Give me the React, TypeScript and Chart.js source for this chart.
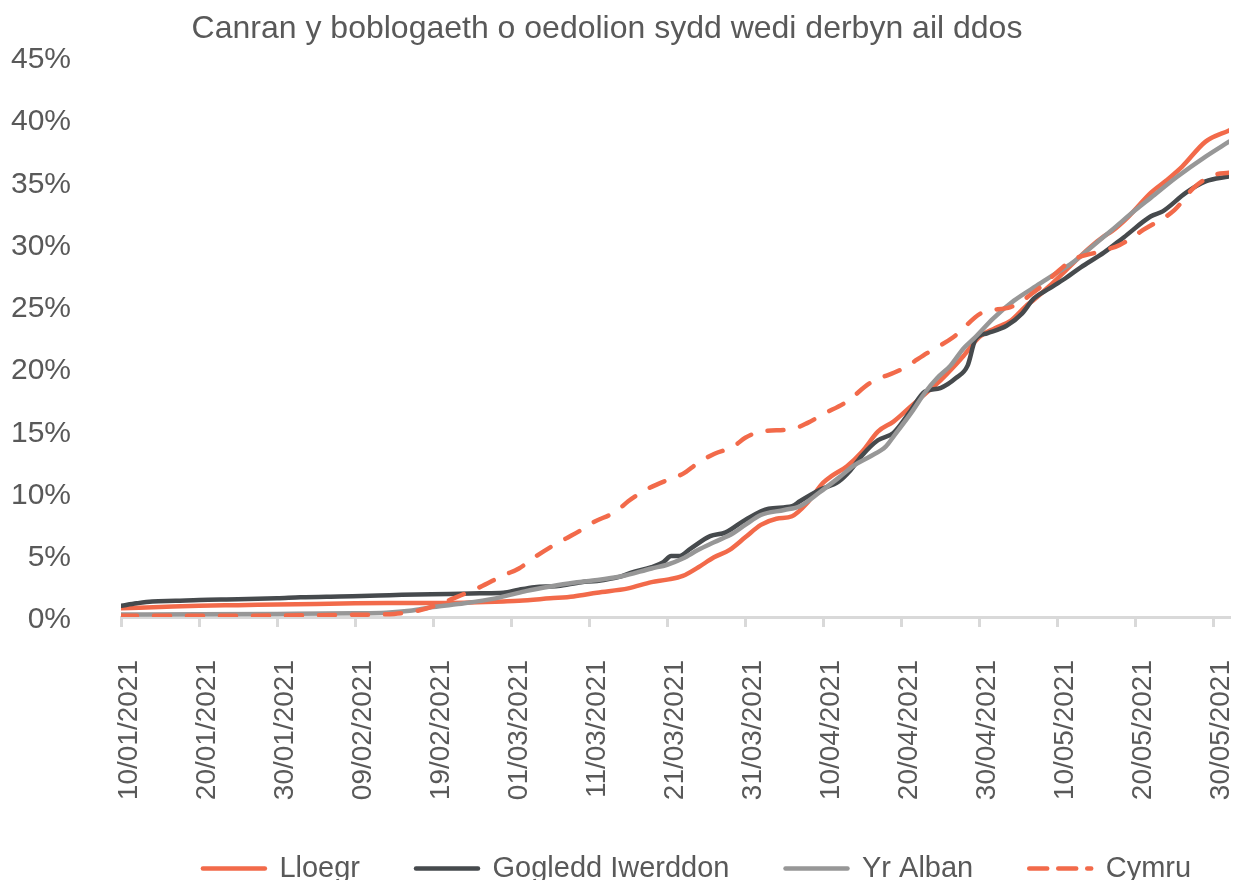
import React, { useEffect, useRef } from 'react';
import { Chart, registerables } from 'chart.js';

Chart.register(...registerables);

// Tick labels every 10 days, starting 10/01/2021 (day index 0)
const tickLabels = [
  '10/01/2021', '20/01/2021', '30/01/2021', '09/02/2021', '19/02/2021',
  '01/03/2021', '11/03/2021', '21/03/2021', '31/03/2021', '10/04/2021',
  '20/04/2021', '30/04/2021', '10/05/2021', '20/05/2021', '30/05/2021',
];

const seriesNames = ['Lloegr', 'Gogledd Iwerddon', 'Yr Alban', 'Cymru'];

// Day index (days since 10/01/2021) and % values
const lloegrDays = [0, 5, 10, 15, 20, 25, 30, 36, 44, 49, 51, 55, 58, 61, 65, 68, 70, 72, 74, 76, 78, 80, 82, 84, 86, 88, 90, 91, 93, 95, 97, 99, 101, 103, 105, 107, 108, 110, 112, 114, 116, 117, 119, 121, 124, 126, 127, 129, 132, 134, 136, 139, 142];
const lloegrValues = [0.7, 0.8, 0.9, 0.95, 1.0, 1.05, 1.1, 1.12, 1.15, 1.25, 1.3, 1.5, 1.65, 1.95, 2.3, 2.8, 3.0, 3.3, 4.0, 4.8, 5.4, 6.4, 7.4, 7.9, 8.1, 9.2, 10.8, 11.3, 12.1, 13.3, 14.9, 15.7, 16.8, 17.9, 19.0, 20.3, 21.0, 22.5, 23.2, 23.8, 25.0, 25.5, 26.6, 27.8, 29.6, 30.6, 31.0, 32.1, 34.1, 35.1, 36.2, 38.2, 39.1];

const niDays = [0, 2, 4, 7, 10, 15, 20, 23, 28, 33, 36, 42, 46, 49, 51, 53, 56, 59, 61, 64, 65.6, 68, 69.5, 70.5, 71.5, 73, 75.5, 77.5, 80, 83, 86, 87, 89.5, 92, 93.5, 95, 97, 99, 101, 103, 105, 107, 108.5, 109.5, 111, 113.5, 115.5, 117, 119, 121, 123, 126, 128.5, 132, 133.5, 136.5, 139, 142];
const niValues = [0.9, 1.1, 1.25, 1.3, 1.37, 1.42, 1.5, 1.58, 1.65, 1.72, 1.78, 1.85, 1.9, 1.95, 2.2, 2.4, 2.5, 2.8, 2.9, 3.25, 3.6, 4.0, 4.4, 4.9, 4.9, 5.5, 6.5, 6.8, 7.8, 8.7, 8.9, 9.3, 10.2, 10.9, 11.8, 13.0, 14.2, 14.8, 16.4, 18.1, 18.4, 19.2, 20.2, 22.3, 22.8, 23.4, 24.4, 25.6, 26.4, 27.2, 28.1, 29.3, 30.5, 32.2, 32.6, 34.1, 35.0, 35.4];

const albanDays = [0, 10, 20, 30, 34, 37, 40, 44, 48, 50, 52, 55, 58, 60, 64, 68, 70, 72, 74, 76, 78.5, 80, 82, 85, 87, 89.5, 92, 94, 96, 98, 99, 101.5, 103, 104.6, 106.3, 108, 109.5, 111.8, 114.4, 117.8, 119, 122, 124.5, 127, 130, 132, 135.4, 139, 142];
const albanValues = [0.2, 0.22, 0.25, 0.3, 0.35, 0.5, 0.8, 1.1, 1.5, 1.8, 2.1, 2.45, 2.75, 2.9, 3.25, 3.9, 4.2, 4.7, 5.4, 6.0, 6.75, 7.4, 8.2, 8.6, 8.9, 10.0, 11.2, 12.2, 12.9, 13.7, 14.5, 16.6, 18.0, 19.2, 20.2, 21.6, 22.5, 24.0, 25.4, 26.8, 27.3, 28.5, 29.8, 31.1, 32.7, 33.7, 35.4, 37.0, 38.2];

const cymruDays = [0, 10, 20, 30, 35, 38, 40, 43, 46, 49, 51, 53, 55, 57, 59, 60.5, 63.5, 65, 67.5, 70.8, 72, 74, 76, 78.5, 80, 82, 86, 88, 90, 93, 96, 100, 103.3, 106.7, 110.5, 114, 117.4, 122, 125, 128, 131, 135, 137.5, 140, 142];
const cymruValues = [0.1, 0.1, 0.12, 0.18, 0.25, 0.5, 0.85, 1.6, 2.4, 3.35, 3.9, 4.8, 5.6, 6.3, 7.0, 7.6, 8.5, 9.3, 10.3, 11.2, 11.5, 12.4, 13.1, 13.7, 14.4, 14.9, 15.1, 15.6, 16.3, 17.3, 18.8, 19.9, 21.2, 22.5, 24.5, 24.9, 26.3, 28.7, 29.3, 29.9, 31.1, 32.7, 34.5, 35.5, 35.7];

const ORANGE = '#F26A4A';
const DARK = '#464A4D';
const GREY = '#979797';
const TEXT = '#595959';
const AXIS = '#D9D9D9';
const FONT = "'Liberation Sans', Arial, sans-serif";

const LEGEND_DX = 77;
const LEGEND_DY = -7;
const TITLE_DX = -13;
const X_AXIS_HEIGHT = 188;
const Y_AXIS_WIDTH = 110;

const toPoints = (days: number[], vals: number[]) => days.map((x, i) => ({ x, y: vals[i] }));

const shiftPlugin = {
  id: 'shiftBlocks',
  afterLayout(chart: any) {
    const l = chart.legend;
    if (l) {
      l.left += LEGEND_DX; l.right += LEGEND_DX;
      l.top += LEGEND_DY; l.bottom += LEGEND_DY;
    }
    const t = chart.titleBlock;
    if (t) { t.left += TITLE_DX; t.right += TITLE_DX; }
  },
};

export default function App() {
  const ref = useRef<HTMLCanvasElement>(null);
  useEffect(() => {
    document.body.style.margin = '0';
    const canvas = ref.current;
    if (!canvas) return;
    const common = {
      borderWidth: 4.5,
      pointRadius: 0,
      pointHoverRadius: 0,
      pointStyle: 'line',
      fill: false,
      cubicInterpolationMode: 'monotone' as const,
      borderCapStyle: 'round' as const,
      borderJoinStyle: 'round' as const,
    };
    const chart = new Chart(canvas, {
      type: 'line',
      data: {
        datasets: [
          { ...common, label: seriesNames[0], data: toPoints(lloegrDays, lloegrValues), borderColor: ORANGE, backgroundColor: ORANGE, order: 4 },
          { ...common, label: seriesNames[1], data: toPoints(niDays, niValues), borderColor: DARK, backgroundColor: DARK, order: 3 },
          { ...common, label: seriesNames[2], data: toPoints(albanDays, albanValues), borderColor: GREY, backgroundColor: GREY, order: 2 },
          { ...common, label: seriesNames[3], data: toPoints(cymruDays, cymruValues), borderColor: ORANGE, backgroundColor: ORANGE, borderDash: [16, 17], order: 1 },
        ],
      },
      options: {
        responsive: false,
        animation: false,
        devicePixelRatio: 1,
        layout: { padding: { left: 11, right: 9, top: 0, bottom: 0 } },
        plugins: {
          title: {
            display: true,
            text: 'Canran y boblogaeth o oedolion sydd wedi derbyn ail ddos',
            color: TEXT,
            font: { family: FONT, size: 32, weight: 'normal' },
            padding: { top: 10, bottom: 8.6 },
          },
          legend: {
            position: 'bottom',
            maxHeight: 82,
            labels: {
              usePointStyle: true,
              pointStyleWidth: 62,
              color: TEXT,
              font: { family: FONT, size: 29 },
              padding: 56,
              sort: (a: any, b: any) => a.datasetIndex - b.datasetIndex,
              generateLabels: (chart: any) => {
                const items = Chart.defaults.plugins.legend.labels.generateLabels(chart);
                return items.map((it: any) => {
                  const ds: any = chart.data.datasets[it.datasetIndex];
                  return {
                    ...it,
                    lineWidth: 4.5,
                    lineCap: 'round',
                    lineDash: ds.borderDash ? [18, 11] : [],
                    strokeStyle: ds.borderColor,
                    fillStyle: ds.borderColor,
                  };
                });
              },
            },
          },
          tooltip: { enabled: false },
        },
        scales: {
          x: {
            type: 'linear',
            min: 0,
            max: 142,
            grid: { display: true, drawOnChartArea: false, drawTicks: true, tickLength: 10, color: AXIS, lineWidth: 3 },
            border: { display: true, color: AXIS, width: 3 },
            ticks: {
              stepSize: 10,
              includeBounds: false,
              autoSkip: false,
              minRotation: 90,
              maxRotation: 90,
              padding: 33,
              labelOffset: 8,
              color: TEXT,
              font: { family: FONT, size: 28 },
              callback: (v: any) => tickLabels[Math.round(Number(v) / 10)] ?? '',
            },
            afterFit: (scale: any) => {
              scale.paddingRight = 0;
              scale.paddingLeft = 0;
              scale.height = X_AXIS_HEIGHT;
            },
          },
          y: {
            min: 0,
            max: 45,
            grid: { display: false, drawTicks: false },
            border: { display: false },
            ticks: {
              stepSize: 5,
              padding: 50,
              labelOffset: 3,
              color: TEXT,
              font: { family: FONT, size: 30 },
              callback: (v: any) => v + '%',
            },
            afterFit: (scale: any) => {
              scale.paddingTop = 0;
              scale.paddingBottom = 0;
              scale.width = Y_AXIS_WIDTH;
            },
          },
        },
      },
      plugins: [shiftPlugin],
    });
    return () => chart.destroy();
  }, []);
  return <canvas ref={ref} width={1238} height={887} style={{ display: 'block' }} />;
}
